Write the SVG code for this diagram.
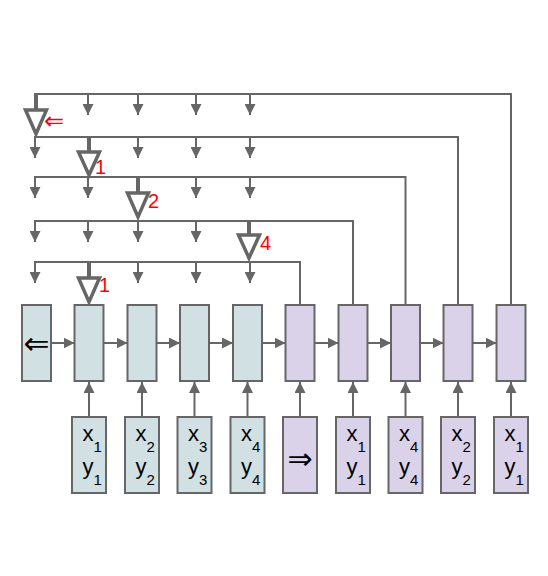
<svg xmlns="http://www.w3.org/2000/svg" width="548" height="576" viewBox="0 0 548 576">
<defs>
<marker id="ah" markerUnits="userSpaceOnUse" markerWidth="11" markerHeight="11" refX="10" refY="5" orient="auto" viewBox="0 0 10 10">
<path d="M0,0 L10,5 L0,10 z" fill="#666666"/>
</marker>
<style>
.enc{fill:#d0e0e3;stroke:#666666;stroke-width:2}
.dec{fill:#d9d2e9;stroke:#666666;stroke-width:2}
.ln{stroke:#666666;stroke-width:2;fill:none}
.ar{stroke:#666666;stroke-width:2;fill:none;marker-end:url(#ah)}
.stem{stroke:#666666;stroke-width:4;fill:none}
.tri{fill:#ffffff;stroke:#666666;stroke-width:3.5;stroke-linejoin:miter}
.lbl{font-family:"Liberation Sans",Arial,sans-serif;font-size:20px;fill:#ff0000}
.sym{font-family:"DejaVu Sans",sans-serif;fill:#000000}
.t{font-family:"Liberation Sans",Arial,sans-serif;font-size:22px;fill:#000000}
.s{font-size:15px}
</style>
</defs>
<rect width="548" height="576" fill="#ffffff"/>

<g id="connectors">
<path class="ln" d="M34,94 H511 V305"/>
<path class="ln" d="M34,137 H458 V305"/>
<path class="ln" d="M34,177 H405.5 V305"/>
<path class="ln" d="M34,221 H353 V305"/>
<path class="ln" d="M34,262 H300 V305"/>
<line class="ar" x1="88" y1="94" x2="88" y2="115"/>
<line class="ar" x1="138" y1="94" x2="138" y2="115"/>
<line class="ar" x1="196" y1="94" x2="196" y2="115"/>
<line class="ar" x1="250" y1="94" x2="250" y2="115"/>
<line class="ar" x1="35" y1="137" x2="35" y2="158"/>
<line class="ar" x1="138" y1="137" x2="138" y2="158"/>
<line class="ar" x1="196" y1="137" x2="196" y2="158"/>
<line class="ar" x1="250" y1="137" x2="250" y2="158"/>
<line class="ar" x1="35" y1="177" x2="35" y2="198"/>
<line class="ar" x1="88" y1="177" x2="88" y2="198"/>
<line class="ar" x1="196" y1="177" x2="196" y2="198"/>
<line class="ar" x1="250" y1="177" x2="250" y2="198"/>
<line class="ar" x1="35" y1="221" x2="35" y2="242"/>
<line class="ar" x1="88" y1="221" x2="88" y2="242"/>
<line class="ar" x1="138" y1="221" x2="138" y2="242"/>
<line class="ar" x1="196" y1="221" x2="196" y2="242"/>
<line class="ar" x1="35" y1="262" x2="35" y2="283"/>
<line class="ar" x1="138" y1="262" x2="138" y2="283"/>
<line class="ar" x1="196" y1="262" x2="196" y2="283"/>
<line class="ar" x1="250" y1="262" x2="250" y2="283"/>
<line class="stem" x1="36" y1="93" x2="36" y2="110"/>
<polygon class="tri" points="25.5,110 46.5,110 36,134"/>
<line class="stem" x1="89" y1="136" x2="89" y2="152"/>
<polygon class="tri" points="78.5,152 99.5,152 89,175"/>
<line class="stem" x1="138" y1="176" x2="138" y2="193"/>
<polygon class="tri" points="127.5,193 148.5,193 138,217"/>
<line class="stem" x1="249" y1="220" x2="249" y2="235"/>
<polygon class="tri" points="238.5,235 259.5,235 249,258"/>
<line class="stem" x1="89" y1="261" x2="89" y2="278"/>
<polygon class="tri" points="78.5,278 99.5,278 89,302"/>
<line class="ar" x1="51" y1="343" x2="74.5" y2="343"/>
<line class="ar" x1="103.5" y1="343" x2="127.5" y2="343"/>
<line class="ar" x1="156.5" y1="343" x2="180" y2="343"/>
<line class="ar" x1="209" y1="343" x2="233" y2="343"/>
<line class="ar" x1="262" y1="343" x2="285.5" y2="343"/>
<line class="ar" x1="314.5" y1="343" x2="338.5" y2="343"/>
<line class="ar" x1="367.5" y1="343" x2="391" y2="343"/>
<line class="ar" x1="420" y1="343" x2="443.5" y2="343"/>
<line class="ar" x1="472.5" y1="343" x2="496.5" y2="343"/>
<line class="ar" x1="89" y1="417" x2="89" y2="382"/>
<line class="ar" x1="142" y1="417" x2="142" y2="382"/>
<line class="ar" x1="194.5" y1="417" x2="194.5" y2="382"/>
<line class="ar" x1="247.5" y1="417" x2="247.5" y2="382"/>
<line class="ar" x1="300" y1="417" x2="300" y2="382"/>
<line class="ar" x1="353" y1="417" x2="353" y2="382"/>
<line class="ar" x1="405.5" y1="417" x2="405.5" y2="382"/>
<line class="ar" x1="458" y1="417" x2="458" y2="382"/>
<line class="ar" x1="511" y1="417" x2="511" y2="382"/>
<text class="sym" x="44" y="129" style="fill:#ff0000;font-size:24px">⇐</text>
<text class="lbl" x="95" y="174">1</text>
<text class="lbl" x="148" y="208">2</text>
<text class="lbl" x="260" y="250">4</text>
<text class="lbl" x="99" y="292">1</text>
</g>

<g id="h0"><rect class="enc" x="22" y="305" width="29" height="76"/><text class="sym" x="36.5" y="354" font-size="31" text-anchor="middle">⇐</text></g>
<g id="h1"><rect class="enc" x="74.5" y="305" width="29" height="76"/></g>
<g id="h2"><rect class="enc" x="127.5" y="305" width="29" height="76"/></g>
<g id="h3"><rect class="enc" x="180" y="305" width="29" height="76"/></g>
<g id="h4"><rect class="enc" x="233" y="305" width="29" height="76"/></g>
<g id="h5"><rect class="dec" x="285.5" y="305" width="29" height="76"/></g>
<g id="h6"><rect class="dec" x="338.5" y="305" width="29" height="76"/></g>
<g id="h7"><rect class="dec" x="391" y="305" width="29" height="76"/></g>
<g id="h8"><rect class="dec" x="443.5" y="305" width="29" height="76"/></g>
<g id="h9"><rect class="dec" x="496.5" y="305" width="29" height="76"/></g>

<g id="in1"><rect class="enc" x="72" y="417" width="34" height="76"/>
<text class="t" x="82.5" y="441">x<tspan class="s" dy="11">1</tspan></text>
<text class="t" x="82.5" y="474">y<tspan class="s" dy="11">1</tspan></text></g>
<g id="in2"><rect class="enc" x="125" y="417" width="34" height="76"/>
<text class="t" x="135.5" y="441">x<tspan class="s" dy="11">2</tspan></text>
<text class="t" x="135.5" y="474">y<tspan class="s" dy="11">2</tspan></text></g>
<g id="in3"><rect class="enc" x="177.5" y="417" width="34" height="76"/>
<text class="t" x="188" y="441">x<tspan class="s" dy="11">3</tspan></text>
<text class="t" x="188" y="474">y<tspan class="s" dy="11">3</tspan></text></g>
<g id="in4"><rect class="enc" x="230.5" y="417" width="34" height="76"/>
<text class="t" x="241" y="441">x<tspan class="s" dy="11">4</tspan></text>
<text class="t" x="241" y="474">y<tspan class="s" dy="11">4</tspan></text></g>
<g id="in5"><rect class="dec" x="283" y="417" width="34" height="76"/>
<text class="sym" x="300" y="469" font-size="30" text-anchor="middle">⇒</text></g>
<g id="in6"><rect class="dec" x="336" y="417" width="34" height="76"/>
<text class="t" x="346.5" y="441">x<tspan class="s" dy="11">1</tspan></text>
<text class="t" x="346.5" y="474">y<tspan class="s" dy="11">1</tspan></text></g>
<g id="in7"><rect class="dec" x="388.5" y="417" width="34" height="76"/>
<text class="t" x="399" y="441">x<tspan class="s" dy="11">4</tspan></text>
<text class="t" x="399" y="474">y<tspan class="s" dy="11">4</tspan></text></g>
<g id="in8"><rect class="dec" x="441" y="417" width="34" height="76"/>
<text class="t" x="451.5" y="441">x<tspan class="s" dy="11">2</tspan></text>
<text class="t" x="451.5" y="474">y<tspan class="s" dy="11">2</tspan></text></g>
<g id="in9"><rect class="dec" x="494" y="417" width="34" height="76"/>
<text class="t" x="504.5" y="441">x<tspan class="s" dy="11">1</tspan></text>
<text class="t" x="504.5" y="474">y<tspan class="s" dy="11">1</tspan></text></g>
</svg>
